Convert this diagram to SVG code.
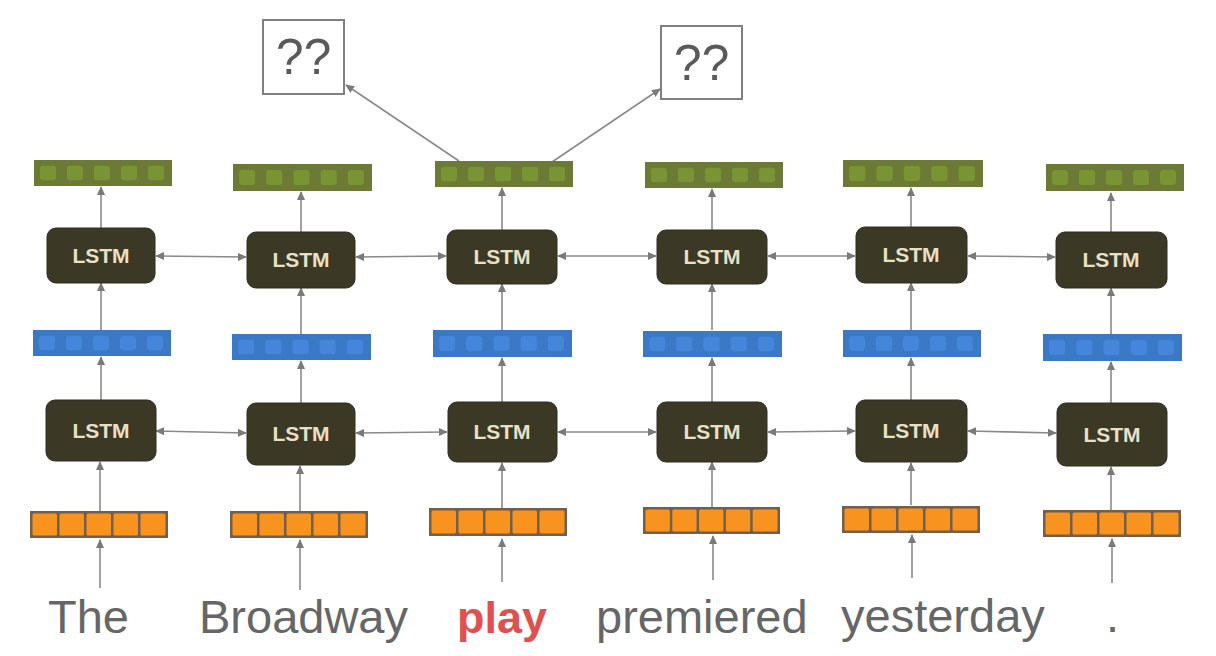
<svg xmlns="http://www.w3.org/2000/svg" xmlns:xlink="http://www.w3.org/1999/xlink" width="1216" height="656" viewBox="0 0 1216 656">
<style>
.lstm rect{fill:#3b3826;stroke:#2e2c1e;stroke-width:1}
.lstm text{font-family:"Liberation Sans",Arial,sans-serif;font-weight:bold;font-size:21px;fill:#e8e0c6;text-anchor:middle}
.word{font-family:"Liberation Sans",Arial,sans-serif;font-size:47px;fill:#666666}
.red{fill:#e0504f;font-weight:bold;font-size:45px}
.q rect{fill:#ffffff;stroke:#808080;stroke-width:2}
.q text{font-family:"Liberation Sans",Arial,sans-serif;font-size:50px;fill:#5a5a5a;text-anchor:middle}
#connectors line{stroke:#8a8a8a;stroke-width:1.6;fill:none}
.up{marker-end:url(#ah)}
.bi{marker-start:url(#ah);marker-end:url(#ah)}
</style>
<defs>
<marker id="ah" viewBox="0 0 10 10" refX="9" refY="5" markerWidth="9" markerHeight="9" markerUnits="userSpaceOnUse" orient="auto-start-reverse">
<path d="M0,0.5 L10,5 L0,9.5 z" fill="#7a7a7a"/>
</marker>
<symbol id="orangeBar" viewBox="0 0 138 27" preserveAspectRatio="none">
<rect x="0" y="0" width="138" height="27" fill="#735f4c"/>
<rect x="2.5" y="2.5" width="24.5" height="22" rx="1.5" fill="#f7931e"/>
<rect x="29.5" y="2.5" width="24.5" height="22" rx="1.5" fill="#f7931e"/>
<rect x="56.5" y="2.5" width="24.5" height="22" rx="1.5" fill="#f7931e"/>
<rect x="83.5" y="2.5" width="24.5" height="22" rx="1.5" fill="#f7931e"/>
<rect x="110.5" y="2.5" width="25" height="22" rx="1.5" fill="#f7931e"/>
</symbol>
<symbol id="greenBar" viewBox="0 0 138 27" preserveAspectRatio="none">
<rect x="0" y="0" width="138" height="27" fill="#6c7a36"/>
<rect x="6" y="6" width="16" height="15" rx="3" fill="#799432"/>
<rect x="33" y="6" width="16" height="15" rx="3" fill="#799432"/>
<rect x="60" y="6" width="16" height="15" rx="3" fill="#799432"/>
<rect x="87" y="6" width="16" height="15" rx="3" fill="#799432"/>
<rect x="114" y="6" width="16" height="15" rx="3" fill="#799432"/>
</symbol>
<symbol id="blueBar" viewBox="0 0 138 27" preserveAspectRatio="none">
<rect x="0" y="0" width="138" height="27" fill="#3b78c6"/>
<rect x="6" y="6" width="16" height="15" rx="3" fill="#4586da"/>
<rect x="33" y="6" width="16" height="15" rx="3" fill="#4586da"/>
<rect x="60" y="6" width="16" height="15" rx="3" fill="#4586da"/>
<rect x="87" y="6" width="16" height="15" rx="3" fill="#4586da"/>
<rect x="114" y="6" width="16" height="15" rx="3" fill="#4586da"/>
</symbol>
</defs>
<rect width="1216" height="656" fill="#ffffff"/>

<g id="connectors">
<line class="up" x1="100" y1="588" x2="100" y2="540"/>
<line class="up" x1="300" y1="590" x2="300" y2="540"/>
<line class="up" x1="502" y1="582" x2="502" y2="539"/>
<line class="up" x1="713" y1="580" x2="713" y2="536"/>
<line class="up" x1="912" y1="578" x2="912" y2="535"/>
<line class="up" x1="1112" y1="583" x2="1112" y2="539"/>
<line class="up" x1="100" y1="511" x2="100" y2="462"/>
<line class="up" x1="300" y1="511" x2="300" y2="466"/>
<line class="up" x1="502" y1="508" x2="502" y2="463"/>
<line class="up" x1="712" y1="507" x2="712" y2="462"/>
<line class="up" x1="911" y1="505" x2="911" y2="463"/>
<line class="up" x1="1111" y1="510" x2="1111" y2="467"/>
<line class="up" x1="101" y1="400" x2="101" y2="357"/>
<line class="up" x1="301" y1="403" x2="301" y2="361"/>
<line class="up" x1="502" y1="402" x2="502" y2="358"/>
<line class="up" x1="712" y1="402" x2="712" y2="358"/>
<line class="up" x1="911" y1="400" x2="911" y2="358"/>
<line class="up" x1="1111" y1="403" x2="1111" y2="362"/>
<line class="up" x1="101" y1="330" x2="101" y2="283"/>
<line class="up" x1="301" y1="334" x2="301" y2="288"/>
<line class="up" x1="502" y1="330" x2="502" y2="284"/>
<line class="up" x1="712" y1="330" x2="712" y2="284"/>
<line class="up" x1="911" y1="330" x2="911" y2="283"/>
<line class="up" x1="1111" y1="334" x2="1111" y2="288"/>
<line class="up" x1="101" y1="228" x2="101" y2="187"/>
<line class="up" x1="301" y1="232" x2="301" y2="192"/>
<line class="up" x1="502" y1="230" x2="502" y2="188"/>
<line class="up" x1="712" y1="230" x2="712" y2="189"/>
<line class="up" x1="911" y1="227" x2="911" y2="188"/>
<line class="up" x1="1111" y1="232" x2="1111" y2="193"/>
<line class="bi" x1="156" y1="256" x2="246" y2="257"/>
<line class="bi" x1="356" y1="257" x2="446" y2="256"/>
<line class="bi" x1="558" y1="256" x2="656" y2="256"/>
<line class="bi" x1="768" y1="256" x2="855" y2="256"/>
<line class="bi" x1="968" y1="256" x2="1055" y2="257"/>
<line class="bi" x1="156" y1="431" x2="246" y2="433"/>
<line class="bi" x1="356" y1="433" x2="447" y2="432"/>
<line class="bi" x1="558" y1="432" x2="656" y2="432"/>
<line class="bi" x1="768" y1="432" x2="855" y2="431"/>
<line class="bi" x1="968" y1="431" x2="1056" y2="433"/>
<line class="up" x1="459" y1="161" x2="346" y2="85"/>
<line class="up" x1="552" y1="162" x2="660" y2="89"/>
</g>

<g id="q1" class="q"><rect x="263" y="20" width="81" height="74"/><text x="303.5" y="74">??</text></g>
<g id="q2" class="q"><rect x="661" y="26" width="81" height="73"/><text x="701.5" y="80">??</text></g>

<g id="green1"><use xlink:href="#greenBar" x="34" y="160" width="138" height="26"/></g>
<g id="green2"><use xlink:href="#greenBar" x="233" y="164" width="139" height="27"/></g>
<g id="green3"><use xlink:href="#greenBar" x="435" y="161" width="138" height="26"/></g>
<g id="green4"><use xlink:href="#greenBar" x="645" y="162" width="138" height="26"/></g>
<g id="green5"><use xlink:href="#greenBar" x="843" y="160" width="140" height="27"/></g>
<g id="green6"><use xlink:href="#greenBar" x="1046" y="164" width="138" height="27"/></g>

<g id="lstmTop1" class="lstm"><rect x="47" y="228" width="108" height="55" rx="9"/><text x="101" y="263">LSTM</text></g>
<g id="lstmTop2" class="lstm"><rect x="247" y="232" width="108" height="56" rx="9"/><text x="301" y="267">LSTM</text></g>
<g id="lstmTop3" class="lstm"><rect x="447" y="230" width="110" height="54" rx="9"/><text x="502" y="264">LSTM</text></g>
<g id="lstmTop4" class="lstm"><rect x="657" y="230" width="110" height="54" rx="9"/><text x="712" y="264">LSTM</text></g>
<g id="lstmTop5" class="lstm"><rect x="856" y="227" width="111" height="56" rx="9"/><text x="911" y="262">LSTM</text></g>
<g id="lstmTop6" class="lstm"><rect x="1056" y="232" width="111" height="56" rx="9"/><text x="1111" y="267">LSTM</text></g>

<g id="blue1"><use xlink:href="#blueBar" x="33" y="330" width="138" height="26"/></g>
<g id="blue2"><use xlink:href="#blueBar" x="232" y="334" width="139" height="26"/></g>
<g id="blue3"><use xlink:href="#blueBar" x="433" y="330" width="139" height="27"/></g>
<g id="blue4"><use xlink:href="#blueBar" x="643" y="331" width="139" height="26"/></g>
<g id="blue5"><use xlink:href="#blueBar" x="843" y="330" width="138" height="27"/></g>
<g id="blue6"><use xlink:href="#blueBar" x="1043" y="334" width="139" height="27"/></g>

<g id="lstmBot1" class="lstm"><rect x="46" y="400" width="110" height="61" rx="9"/><text x="101" y="438">LSTM</text></g>
<g id="lstmBot2" class="lstm"><rect x="247" y="403" width="108" height="62" rx="9"/><text x="301" y="441">LSTM</text></g>
<g id="lstmBot3" class="lstm"><rect x="448" y="402" width="109" height="60" rx="9"/><text x="502" y="439">LSTM</text></g>
<g id="lstmBot4" class="lstm"><rect x="657" y="402" width="110" height="60" rx="9"/><text x="712" y="439">LSTM</text></g>
<g id="lstmBot5" class="lstm"><rect x="856" y="400" width="111" height="62" rx="9"/><text x="911" y="438">LSTM</text></g>
<g id="lstmBot6" class="lstm"><rect x="1057" y="403" width="110" height="63" rx="9"/><text x="1112" y="442">LSTM</text></g>

<g id="orange1"><use xlink:href="#orangeBar" x="30" y="511" width="138" height="27"/></g>
<g id="orange2"><use xlink:href="#orangeBar" x="230" y="511" width="138" height="27"/></g>
<g id="orange3"><use xlink:href="#orangeBar" x="429" y="508" width="138" height="28"/></g>
<g id="orange4"><use xlink:href="#orangeBar" x="643" y="507" width="137" height="27"/></g>
<g id="orange5"><use xlink:href="#orangeBar" x="842" y="506" width="138" height="27"/></g>
<g id="orange6"><use xlink:href="#orangeBar" x="1043" y="510" width="138" height="27"/></g>

<g id="words">
<text class="word" x="48" y="633">The</text>
<text class="word" x="199" y="633">Broadway</text>
<text class="word red" x="457" y="633">play</text>
<text class="word" x="596" y="633">premiered</text>
<text class="word" x="841" y="632">yesterday</text>
<text class="word" x="1106" y="632">.</text>
</g>
</svg>
